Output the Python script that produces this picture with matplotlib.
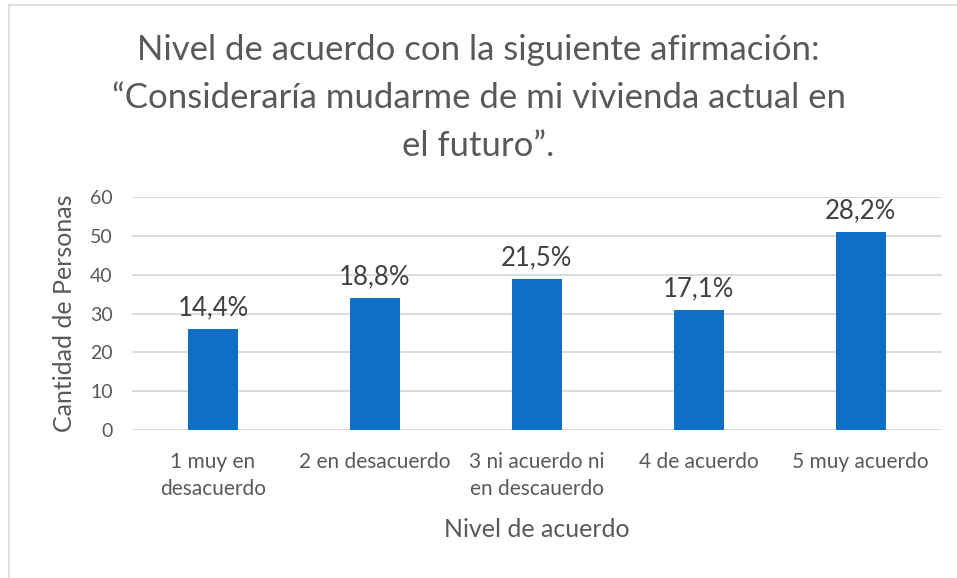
import matplotlib
matplotlib.use("Agg")
import matplotlib.pyplot as plt
from matplotlib.lines import Line2D

plt.rcParams['font.family'] = ['Lato', 'DejaVu Sans']

categorias = ["1 muy en\ndesacuerdo", "2 en desacuerdo", "3 ni acuerdo ni\nen descauerdo",
              "4 de acuerdo", "5 muy acuerdo"]
personas = [26, 34, 39, 31, 51]
etiquetas = ["14,4%", "18,8%", "21,5%", "17,1%", "28,2%"]

gris_texto = '#595959'
azul = '#0F6FC6'

fig = plt.figure(figsize=(9.57, 5.78), dpi=100)
ax = fig.add_axes([0.138, 0.256, 0.846, 0.403])

x = range(len(categorias))
barras = ax.bar(x, personas, width=0.31, color=azul, zorder=3)

for b, txt in zip(barras, etiquetas):
    ax.annotate(txt, (b.get_x() + b.get_width() / 2, b.get_height()),
                xytext=(0, 6), textcoords='offset points',
                ha='center', va='bottom', fontsize=18.5, color='#404040')

ax.set_xlim(-0.5, len(categorias) - 0.5)
ax.set_ylim(0, 60)
ax.set_yticks(range(0, 61, 10))
ax.set_xticks(list(x))
ax.set_xticklabels(categorias, fontsize=15, color=gris_texto, linespacing=1.4)
ax.tick_params(axis='y', labelsize=14, labelcolor=gris_texto, length=0, pad=14)
ax.tick_params(axis='x', length=0, pad=16)
ax.grid(axis='y', color='#D9D9D9', linewidth=1.3, zorder=0)
for s in ax.spines.values():
    s.set_visible(False)

ax.set_ylabel("Cantidad de Personas", fontsize=18, color=gris_texto, labelpad=10)
ax.set_xlabel("Nivel de acuerdo", fontsize=18, color=gris_texto, labelpad=14)

fig.text(0.5, 0.942, "Nivel de acuerdo con la siguiente afirmación:\n"
         "\u201cConsideraría mudarme de mi vivienda actual en\nel futuro\u201d.",
         ha='center', va='top', fontsize=25, color=gris_texto, linespacing=1.62)

# marco del gráfico
fig.add_artist(Line2D([0.0095, 0.0095], [0.0, 0.991], color='#D9D9D9', lw=1.2,
                      transform=fig.transFigure))
fig.add_artist(Line2D([0.0095, 1.0], [0.991, 0.991], color='#D9D9D9', lw=1.2,
                      transform=fig.transFigure))

fig.savefig("out.png", dpi=100)
